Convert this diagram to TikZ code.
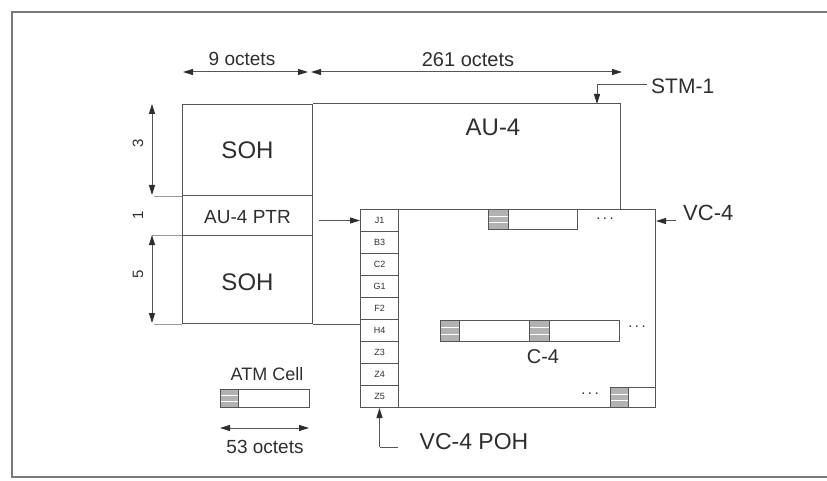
\documentclass[tikz,border=0pt]{standalone}
\usepackage{fontspec}
\setmainfont{Liberation Sans}
\usetikzlibrary{arrows.meta,calc}
\definecolor{linec}{HTML}{555555}
\definecolor{textc}{HTML}{2E2E2E}
\definecolor{framec}{HTML}{7A7A7A}
\tikzset{
  ln/.style={draw=linec, line width=1pt},
  boxn/.style={ln, anchor=north west, inner sep=0pt},
  tip/.tip={Triangle[length=10pt,width=6pt,color=textc]},
  arr/.style={draw=linec, line width=1pt, -tip},
  dimarr/.style={draw=linec, line width=1pt, tip-tip},
  hdr/.style={boxn, fill=gray!60, path picture={
     \foreach \f in {0.33,0.67}{
       \draw[white, line width=0.9pt]
         ($(path picture bounding box.north west)!\f!(path picture bounding box.south west)$) --
         ($(path picture bounding box.north east)!\f!(path picture bounding box.south east)$);}}},
  txt/.style={text=textc, inner sep=0pt, font=\fontsize{#1}{#1}\selectfont},
  pohl/.style={text=textc, font=\fontsize{9}{9}\selectfont},
}
\newcommand{\mydots}{.\hspace{2.5pt}.\hspace{2.5pt}.}
\begin{document}
\begin{tikzpicture}[x=1pt,y=-1pt]
\useasboundingbox (0,0) rectangle (827,481);
% outer frame
\draw[draw=framec, line width=1.6pt] (827,12) -- (12,12) -- (12,477) -- (827,477);

% left block
\node[boxn, minimum width=130pt, minimum height=91pt] (soh1) at (182,104) {};
\node[boxn, minimum width=130pt, minimum height=40pt] (ptr) at (182,195) {};
\node[boxn, minimum width=130pt, minimum height=88pt] (soh2) at (182,235) {};
\node[txt=24] (soh1t) at (soh1.center) {SOH};
\node[txt=19] (ptrt) at ([yshift=-2pt]ptr.center) {AU-4 PTR};
\node[txt=24] (soh2t) at ([yshift=-3pt]soh2.center) {SOH};

% extension ticks on the left
\draw[draw=linec!60, line width=0.8pt] (soh1.south west) -- ++(-28pt,0);
\draw[draw=linec!60, line width=0.8pt] (soh2.north west) -- ++(-30pt,0);
\draw[draw=linec!60, line width=0.8pt] (soh2.south west) -- ++(-28pt,0);

% VC-4 box
\node[boxn, minimum width=295pt, minimum height=198pt] (vc4) at (360,209) {};

% AU-4 region
\coordinate (au4ne) at (620,104);
\draw[ln] (soh1.north east) -- (au4ne) -- (au4ne |- vc4.north);
\draw[ln] (soh2.south east) -- (soh2.south east -| vc4.west);
\node[txt=24] (au4t) at (493,127) {AU-4};

% POH column
\foreach \t [count=\i from 0] in {J1,B3,C2,G1,F2,H4,Z3,Z4,Z5}
  \node[boxn, minimum width=38pt, minimum height=22pt, pohl] (p\t) at (360,{209+22*\i}) {\t};

% cells in VC-4
\node[hdr, minimum width=20pt, minimum height=20pt] (c1h) at (488,209) {};
\node[boxn, minimum width=69pt, minimum height=20pt] (c1b) at (508,209) {};
\node[txt=15] (d1) at (605,219) {\mydots};

\node[hdr, minimum width=19pt, minimum height=21pt] (c2h) at (440,320) {};
\node[boxn, minimum width=70pt, minimum height=21pt] (c2b) at (459,320) {};
\node[hdr, minimum width=20pt, minimum height=21pt] (c3h) at (529,320) {};
\node[boxn, minimum width=70pt, minimum height=21pt] (c3b) at (549,320) {};
\node[txt=15] (d2) at (637,327) {\mydots};
\node[txt=20] (c4t) at (543,357) {C-4};

\node[hdr, minimum width=18pt, minimum height=20pt] (c4h) at (610,387) {};
\node[boxn, minimum width=27pt, minimum height=20pt] (c4b) at (628,387) {};
\node[txt=15] (d3) at (590,394) {\mydots};

% dimension arrows (top)
\coordinate (d9l) at (183,72);
\coordinate (d9r) at (308,72);
\coordinate (d261l) at (311,72);
\coordinate (d261r) at (622,72);
\draw[dimarr] (d9l) -- (d9r);
\draw[dimarr] (d261l) -- (d261r);
\node[txt=19] (t9) at (242,59) {9 octets};
\node[txt=20] (t261) at (468,60) {261 octets};

% dimension arrows (left)
\coordinate (v3a) at (152,104);
\coordinate (v3b) at (152,195);
\coordinate (v5a) at (152,235);
\coordinate (v5b) at (152,323);
\draw[dimarr] (v3a) -- (v3b);
\draw[dimarr] (v5a) -- (v5b);
\node[txt=15, rotate=90] (n3) at (138,143) {3};
\node[txt=15, rotate=90] (n1) at (138,215) {1};
\node[txt=15, rotate=90] (n5) at (138,274) {5};

% STM-1
\node[txt=21, anchor=west] (stm) at (651,86) {STM-1};
\coordinate (stmc) at (597,85);
\draw[ln] (stm.west |- stmc) ++(-4pt,0) -- (stmc);
\draw[arr] (stmc) -- (stmc |- soh1.north);

% VC-4 label
\node[txt=22, anchor=west] (vcl) at (683,213) {VC-4};
\coordinate (vcc) at (676,221);
\draw[arr] (vcc) -- (vcc -| vc4.east);

% AU-4 PTR pointer
\draw[arr, shorten <=6pt] (ptr.east |- pJ1.west) -- (pJ1.west);

% VC-4 POH
\node[txt=23] (pohlbl) at (474,442) {VC-4 POH};
\coordinate (pohc) at (pZ5.south |- 0,447);
\coordinate (pohe) at (398,447);
\draw[ln] (pohe) -- (pohc);
\draw[arr] (pohc) -- (pZ5.south);

% ATM cell
\node[txt=18] (atmt) at (267,374) {ATM Cell};
\node[hdr, minimum width=18pt, minimum height=18pt] (atmh) at (220,389) {};
\node[boxn, minimum width=71pt, minimum height=18pt] (atmb) at (238,389) {};
\coordinate (atml) at (220,428);
\coordinate (atmr) at (309,428);
\draw[dimarr] (atml) -- (atmr);
\node[txt=19] (t53) at (265,447) {53 octets};
\end{tikzpicture}
\end{document}
